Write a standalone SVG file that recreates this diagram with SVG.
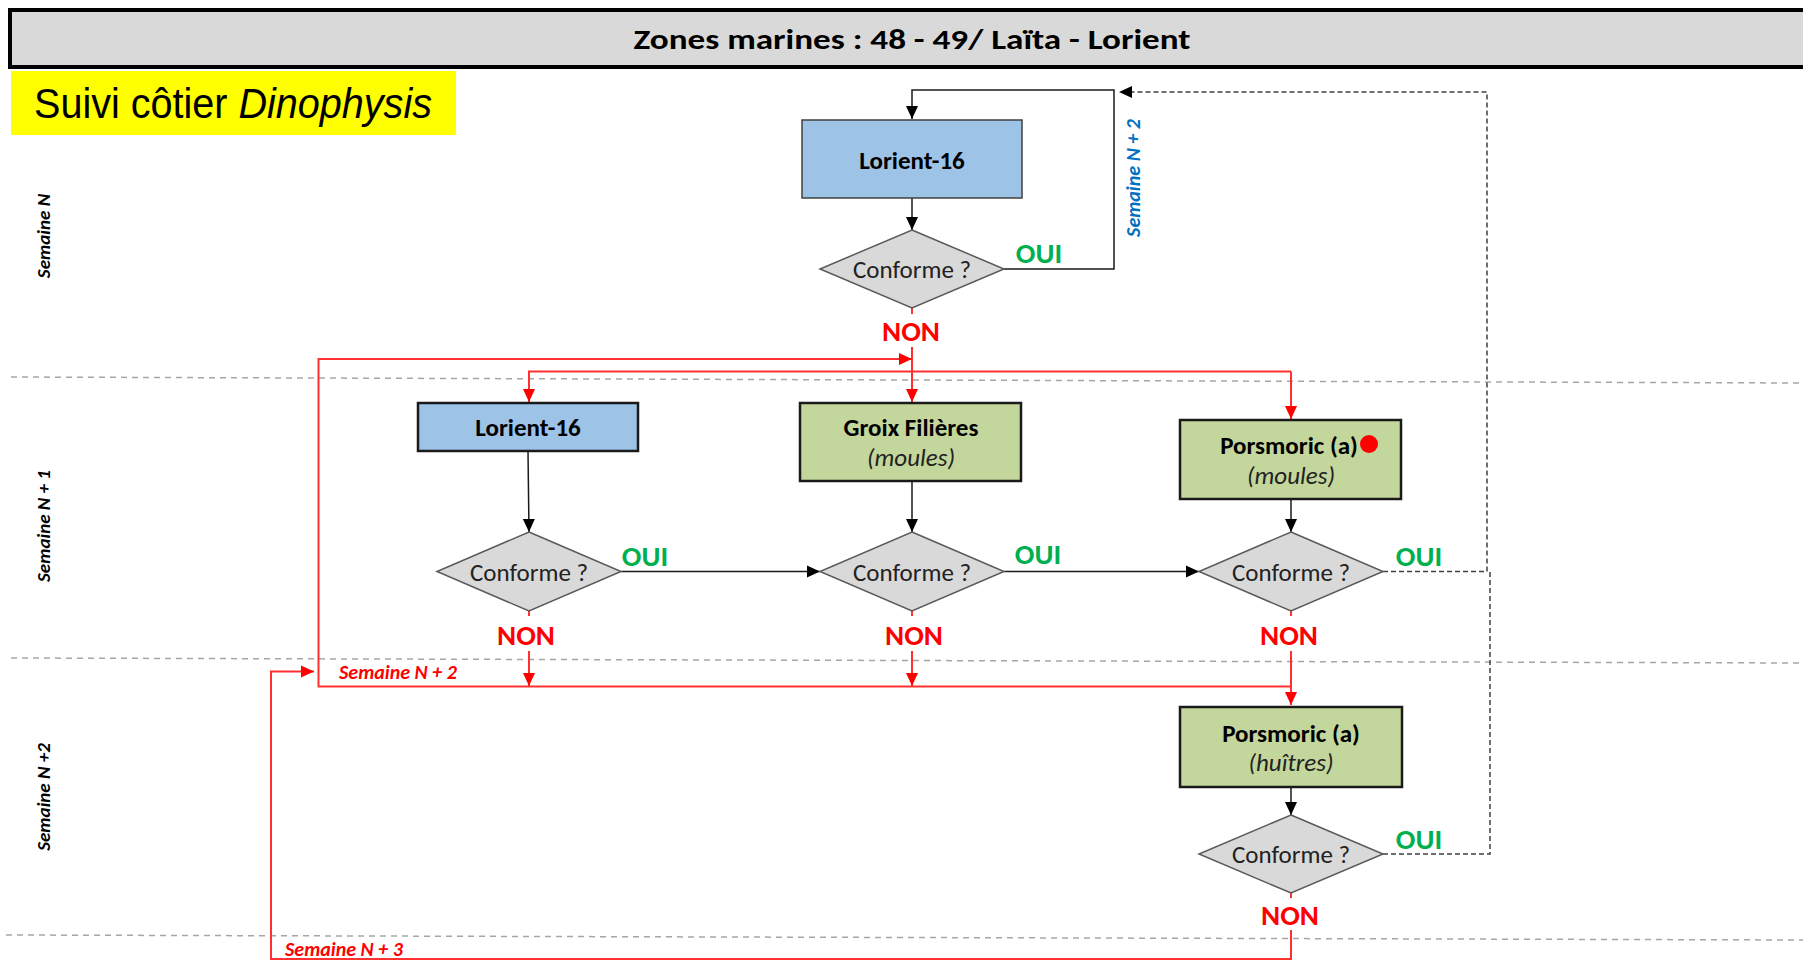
<svg xmlns="http://www.w3.org/2000/svg" width="1803" height="968" viewBox="0 0 1803 968">
<style>
  .t { font-family: Carlito, Lato, "Open Sans", sans-serif; }
  .box-blue { fill: #9dc3e6; stroke: #1a1a1a; stroke-width: 2.5; }
  .box-green { fill: #c3d69b; stroke: #1a1a1a; stroke-width: 2.5; }
  .dia { fill: #d9d9d9; stroke: #595959; stroke-width: 1.5; }
  .lbl { font-family: Carlito, Lato, sans-serif; font-size: 25px; font-weight: bold; fill: #000; text-anchor: middle; }
  .sub { font-family: Carlito, Lato, sans-serif; font-size: 25px; font-style: italic; fill: #222; text-anchor: middle; }
  .conf { font-family: Carlito, Lato, sans-serif; font-size: 25px; fill: #222; text-anchor: middle; }
  .oui { font-family: Carlito, Lato, sans-serif; font-size: 29px; font-weight: bold; fill: #00b050; text-anchor: middle; }
  .non { font-family: Carlito, Lato, sans-serif; font-size: 29px; font-weight: bold; fill: #ff0000; text-anchor: middle; }
  .blk { fill: none; stroke: #1a1a1a; stroke-width: 1.5; }
  .red { fill: none; stroke: #ff3030; stroke-width: 2; }
  .dash { fill: none; stroke: #404040; stroke-width: 1.5; stroke-dasharray: 5 3; }
  .sep { fill: none; stroke: #a6a6a6; stroke-width: 1.5; stroke-dasharray: 6 5; }
  .week { font-family: Carlito, Lato, sans-serif; font-size: 19px; font-weight: bold; font-style: italic; fill: #000; text-anchor: middle; }
  .weekr { font-family: Carlito, Lato, sans-serif; font-size: 20px; font-weight: bold; font-style: italic; fill: #ff0000; }
</style>
<defs>
  <marker id="ab" markerUnits="userSpaceOnUse" markerWidth="14" markerHeight="14" refX="13" refY="7" orient="auto" viewBox="0 0 14 14">
    <path d="M0,1 L13,7 L0,13 z" fill="#000"/>
  </marker>
  <marker id="ar" markerUnits="userSpaceOnUse" markerWidth="14" markerHeight="14" refX="13" refY="7" orient="auto" viewBox="0 0 14 14">
    <path d="M0,1 L13,7 L0,13 z" fill="#ff0000"/>
  </marker>
</defs>
<rect width="1803" height="968" fill="#ffffff"/>

<!-- header -->
<g id="header">
  <rect x="10" y="10" width="1800" height="57" fill="#d9d9d9" stroke="#000" stroke-width="4"/>
  <text x="912" y="49" class="t" font-size="29" font-weight="bold" text-anchor="middle" textLength="557" lengthAdjust="spacingAndGlyphs">Zones marines : 48 - 49/ Laïta - Lorient</text>
</g>
<g id="title-box">
  <rect x="11" y="71" width="445" height="64" fill="#ffff00"/>
  <text x="34" y="118" font-family="'Liberation Sans Narrow', 'Liberation Sans', Arial, sans-serif" font-size="42" fill="#000" textLength="398" lengthAdjust="spacingAndGlyphs">Suivi  côtier <tspan font-style="italic">Dinophysis</tspan></text>
</g>

<!-- week separators and labels -->
<g id="weeks">
  <line class="sep" x1="11" y1="377" x2="1803" y2="383"/>
  <line class="sep" x1="11" y1="658" x2="1803" y2="663"/>
  <line class="sep" x1="6" y1="935" x2="1803" y2="940"/>
  <text class="week" transform="translate(42.5,236) rotate(-90)" y="7">Semaine N</text>
  <text class="week" transform="translate(42.5,526) rotate(-90)" y="7">Semaine N + 1</text>
  <text class="week" transform="translate(42.5,797) rotate(-90)" y="7">Semaine N +2</text>
</g>

<!-- connectors -->
<g id="connectors">
  <!-- black -->
  <path class="blk" d="M1004,269 H1114 V90 H912 V119" marker-end="url(#ab)"/>
  <path class="blk" d="M912,198 V230" marker-end="url(#ab)"/>
  <path class="blk" d="M528,451 L529,532" marker-end="url(#ab)"/>
  <path class="blk" d="M912,481 V532" marker-end="url(#ab)"/>
  <path class="blk" d="M1291,499 V532" marker-end="url(#ab)"/>
  <path class="blk" d="M621,571.5 H820" marker-end="url(#ab)"/>
  <path class="blk" d="M1004,571.5 H1199" marker-end="url(#ab)"/>
  <path class="blk" d="M1291,787 V815" marker-end="url(#ab)"/>
  <!-- dashed OUI returns -->
  <path class="dash" d="M1383,571.5 H1487 V92 H1119" marker-end="url(#ab)"/>
  <path class="dash" d="M1383,854 H1490 V571.5"/>
  <!-- red NON paths -->
  <path class="red" d="M912,308 V314"/>
  <path class="red" d="M912,347 V402" marker-end="url(#ar)"/>
  <path class="red" d="M1291,371.5 H529 V402" marker-end="url(#ar)"/>
  <path class="red" d="M1291,371.5 V419" marker-end="url(#ar)"/>
  <path class="red" d="M1291,686.5 H318.5 V359 H912" marker-end="url(#ar)"/>
  <path class="red" d="M529,611 V616"/>
  <path class="red" d="M529,651 V686" marker-end="url(#ar)"/>
  <path class="red" d="M912,611 V616"/>
  <path class="red" d="M912,651 V686" marker-end="url(#ar)"/>
  <path class="red" d="M1291,611 V616"/>
  <path class="red" d="M1291,651 V705" marker-end="url(#ar)"/>
  <path class="red" d="M1291,893 V898"/>
  <path class="red" d="M1291,930 V959 H271 V671.5 H314" marker-end="url(#ar)"/>
  <!-- connector labels -->
  <text class="oui" x="1039" y="263">OUI</text>
  <text class="non" x="911" y="341">NON</text>
  <text class="weekr" transform="translate(1133,178) rotate(-90)" y="7" text-anchor="middle" style="fill:#0070c0">Semaine N + 2</text>
  <text class="oui" x="645" y="566">OUI</text>
  <text class="oui" x="1038" y="564">OUI</text>
  <text class="oui" x="1419" y="566">OUI</text>
  <text class="non" x="526" y="645">NON</text>
  <text class="non" x="914" y="645">NON</text>
  <text class="non" x="1289" y="645">NON</text>
  <text class="oui" x="1419" y="849">OUI</text>
  <text class="non" x="1290" y="925">NON</text>
  <text class="weekr" x="339" y="679">Semaine N + 2</text>
  <text class="weekr" x="285" y="956">Semaine N + 3</text>
</g>

<!-- nodes -->
<g id="n-lorient16-top">
  <rect x="802" y="120" width="220" height="78" fill="#9dc3e6" stroke="#404040" stroke-width="1.5"/>
  <text class="lbl" x="912" y="169">Lorient-16</text>
</g>
<g id="d-top">
  <polygon class="dia" points="912,230 1004,269 912,308 820,269"/>
  <text class="conf" x="912" y="278">Conforme ?</text>
</g>
<g id="n-lorient16">
  <rect class="box-blue" x="418" y="403" width="220" height="48"/>
  <text class="lbl" x="528" y="436">Lorient-16</text>
</g>
<g id="n-groix">
  <rect class="box-green" x="800" y="403" width="221" height="78"/>
  <text class="lbl" x="911" y="436">Groix Filières</text>
  <text class="sub" x="911" y="466">(moules)</text>
</g>
<g id="n-porsmoric-moules">
  <rect class="box-green" x="1180" y="420" width="221" height="79"/>
  <text class="lbl" x="1289" y="454">Porsmoric (a)</text>
  <circle cx="1369" cy="444" r="9" fill="#ff0000"/>
  <text class="sub" x="1291" y="484">(moules)</text>
</g>
<g id="d-lorient16">
  <polygon class="dia" points="529,532 621,571.5 529,611 437,571.5"/>
  <text class="conf" x="529" y="580.5">Conforme ?</text>
</g>
<g id="d-groix">
  <polygon class="dia" points="912,532 1004,571.5 912,611 820,571.5"/>
  <text class="conf" x="912" y="580.5">Conforme ?</text>
</g>
<g id="d-porsmoric-moules">
  <polygon class="dia" points="1291,532 1383,571.5 1291,611 1199,571.5"/>
  <text class="conf" x="1291" y="580.5">Conforme ?</text>
</g>
<g id="n-porsmoric-huitres">
  <rect class="box-green" x="1180" y="707" width="222" height="80"/>
  <text class="lbl" x="1291" y="742">Porsmoric (a)</text>
  <text class="sub" x="1291" y="771">(huîtres)</text>
</g>
<g id="d-porsmoric-huitres">
  <polygon class="dia" points="1291,815 1383,854 1291,893 1199,854"/>
  <text class="conf" x="1291" y="863">Conforme ?</text>
</g>
</svg>
